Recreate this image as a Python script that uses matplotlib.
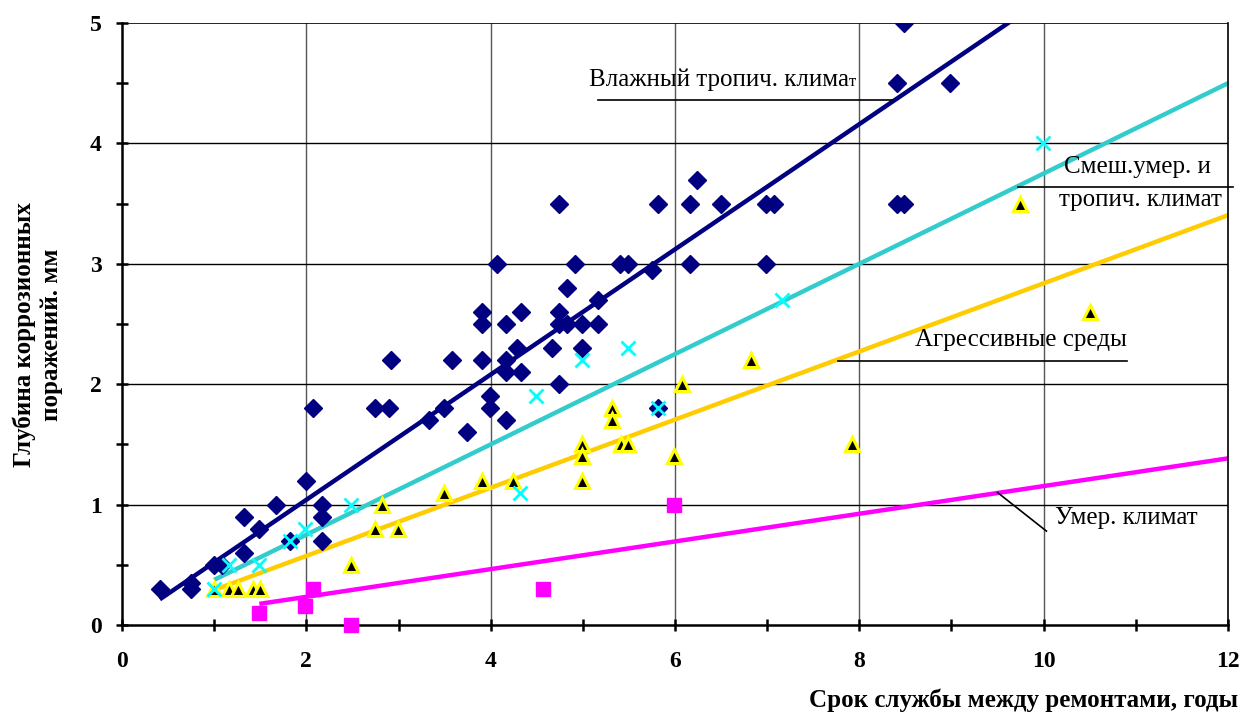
import matplotlib
matplotlib.use("Agg")
import matplotlib.pyplot as plt
import numpy as np

# ---- data ----
humid_x = [0.41, 0.75, 0.75, 1.0, 1.08, 1.32, 1.32, 1.49, 1.67, 1.82, 2.0, 2.17, 2.17, 2.17, 2.07,
           2.74, 2.9, 2.92, 3.58, 3.91, 3.33, 3.49, 3.74, 3.99, 3.99, 4.17, 3.91, 3.91, 4.07, 4.17,
           4.33, 4.17, 4.17, 4.33, 4.29, 4.74, 4.74, 4.74, 4.67, 4.74, 4.83, 4.83, 4.92, 4.99, 4.99,
           5.16, 5.16, 5.40, 5.49, 5.75, 5.82, 6.16, 6.16, 5.82, 6.24, 6.50, 6.99, 7.07, 6.99,
           8.41, 8.48, 8.41, 8.48, 8.98]
humid_y = [0.30, 0.30, 0.35, 0.50, 0.50, 0.90, 0.60, 0.80, 1.00, 0.70, 1.20, 1.00, 0.90, 0.70, 1.80,
           1.80, 1.80, 2.20, 2.20, 2.20, 1.70, 1.80, 1.60, 1.90, 1.80, 1.70, 2.60, 2.50, 3.00, 2.50,
           2.60, 2.20, 2.10, 2.10, 2.30, 3.50, 2.60, 2.50, 2.30, 2.00, 2.80, 2.50, 3.00, 2.50, 2.30,
           2.70, 2.50, 3.00, 3.00, 2.95, 3.50, 3.50, 3.00, 1.80, 3.70, 3.50, 3.50, 3.50, 3.00,
           4.50, 5.00, 3.50, 3.50, 4.50]

mixed_x = [1.0, 1.16, 1.49, 1.82, 1.99, 2.49, 4.32, 4.49, 4.99, 5.49, 5.82, 7.16, 9.99]
mixed_y = [0.30, 0.50, 0.50, 0.70, 0.80, 1.00, 1.10, 1.90, 2.20, 2.30, 1.80, 2.70, 4.00]

aggr_x = [1.0, 1.16, 1.26, 1.42, 1.50, 2.49, 2.74, 2.99, 2.82, 3.49, 3.91, 4.24, 4.99, 4.99, 4.99,
          5.32, 5.32, 5.41, 5.49, 6.08, 5.99, 6.82, 7.92, 10.5, 9.74]
aggr_y = [0.30, 0.30, 0.30, 0.30, 0.30, 0.50, 0.80, 0.80, 1.00, 1.10, 1.20, 1.20, 1.50, 1.40, 1.20,
          1.80, 1.70, 1.50, 1.50, 2.00, 1.40, 2.20, 1.50, 2.60, 3.50]

temp_x = [1.49, 1.99, 2.07, 2.49, 4.57, 5.99]
temp_y = [0.10, 0.16, 0.30, 0.00, 0.30, 1.00]

# trend lines (slope, intercept, start x)
humid_trend = (0.520, 0.0, 0.41)
mixed_trend = (0.375, 0.0, 1.0)
aggr_trend = (0.283, 0.008, 1.0)
temp_trend = (0.115, 0.004, 1.49)

x_ticks = [0, 2, 4, 6, 8, 10, 12]
y_ticks = [0, 1, 2, 3, 4, 5]

# ---- plot ----
plt.rcParams['font.family'] = ['Liberation Serif', 'DejaVu Serif']
fig = plt.figure(figsize=(12.41, 7.13), dpi=100)
ax = fig.add_axes([122/1241, 88/713, 1106/1241, 602/713])

ax.set_xlim(0, 12)
ax.set_ylim(0, 5)

# grid
for xv in x_ticks[1:-1]:
    ax.axvline(xv, color='#555555', lw=1.0, zorder=0)
for yv in y_ticks[1:-1]:
    ax.axhline(yv, color='black', lw=1.0, zorder=0)
ax.axhline(5, color='black', lw=1.2, zorder=0)

# trend lines
xe = 12
for (k, b, x0), col in [(humid_trend, '#000080'), (mixed_trend, '#33CCCC'),
                        (aggr_trend, '#FFCC00'), (temp_trend, '#FF00FF')]:
    xs = np.array([x0, xe])
    ax.plot(xs, k * xs + b, color=col, lw=3.2, zorder=2, solid_capstyle='butt')

# points
ax.plot(humid_x, humid_y, linestyle='none', marker='D', ms=9, color='#000080',
        mec='#000080', zorder=3)
ax.plot(aggr_x, aggr_y, linestyle='none', marker='^', ms=9.5, color='black',
        mec='#FFFF00', mew=2.2, zorder=3)
ax.plot(temp_x, temp_y, linestyle='none', marker='s', ms=10, color='#FF00FF',
        mec='#FF00FF', zorder=3, clip_on=False)
ax.plot(mixed_x, mixed_y, linestyle='none', marker='x', ms=10, color='#00FFFF',
        mew=2.0, zorder=4)

# annotations
fs = 18
ax.plot([5.16, 8.36], [4.36, 4.36], color='black', lw=1.2, zorder=5)
t1 = ax.text(5.07, 4.53, 'Влажный тропич. клима', fontsize=fs, ha='left', va='center')
ax.annotate('т', xy=(1.0, 0.05), xycoords=t1, ha='left', va='bottom', fontsize=12)

ax.plot([9.72, 12.05], [3.64, 3.64], color='black', lw=1.2, zorder=5, clip_on=False)
ax.text(11.02, 3.80, 'Смеш.умер. и', fontsize=fs, ha='center', va='center')
ax.text(11.05, 3.53, 'тропич. климат', fontsize=fs, ha='center', va='center')

ax.plot([7.77, 10.9], [2.19, 2.19], color='black', lw=1.2, zorder=5)
ax.text(8.6, 2.37, 'Агрессивные среды', fontsize=fs, ha='left', va='center')

ax.plot([9.5, 10.03], [1.10, 0.78], color='black', lw=1.2, zorder=5)
ax.text(10.12, 0.89, 'Умер. климат', fontsize=fs, ha='left', va='center')

# spines and ticks
for s in ['left', 'bottom']:
    ax.spines[s].set_linewidth(1.8)
ax.spines['top'].set_visible(False)
ax.spines['right'].set_linewidth(1.2)

ax.set_xticks(x_ticks)
ax.set_yticks(y_ticks)
ax.set_xticks([1, 3, 5, 7, 9, 11], minor=True)
ax.set_yticks([0.5, 1.5, 2.5, 3.5, 4.5], minor=True)
ax.tick_params(which='both', direction='inout', length=9, width=1.8)
ax.tick_params(which='major', labelsize=17)
ax.tick_params(axis='x', which='major', pad=14)
ax.tick_params(axis='y', which='major', pad=10)
ax.tick_params(right=False, top=False)
for lab in ax.get_xticklabels() + ax.get_yticklabels():
    lab.set_fontweight('bold')

fig.text(1238/1241, 13/713, 'Срок службы между ремонтами, годы', fontsize=18,
         fontweight='bold', ha='right', va='center')
fig.text(38/1241, 378/713, 'Глубина коррозионных\nпоражений. мм', fontsize=18,
         fontweight='bold', ha='center', va='center', rotation=90, linespacing=1.2)

fig.savefig('out.png', dpi=100)
